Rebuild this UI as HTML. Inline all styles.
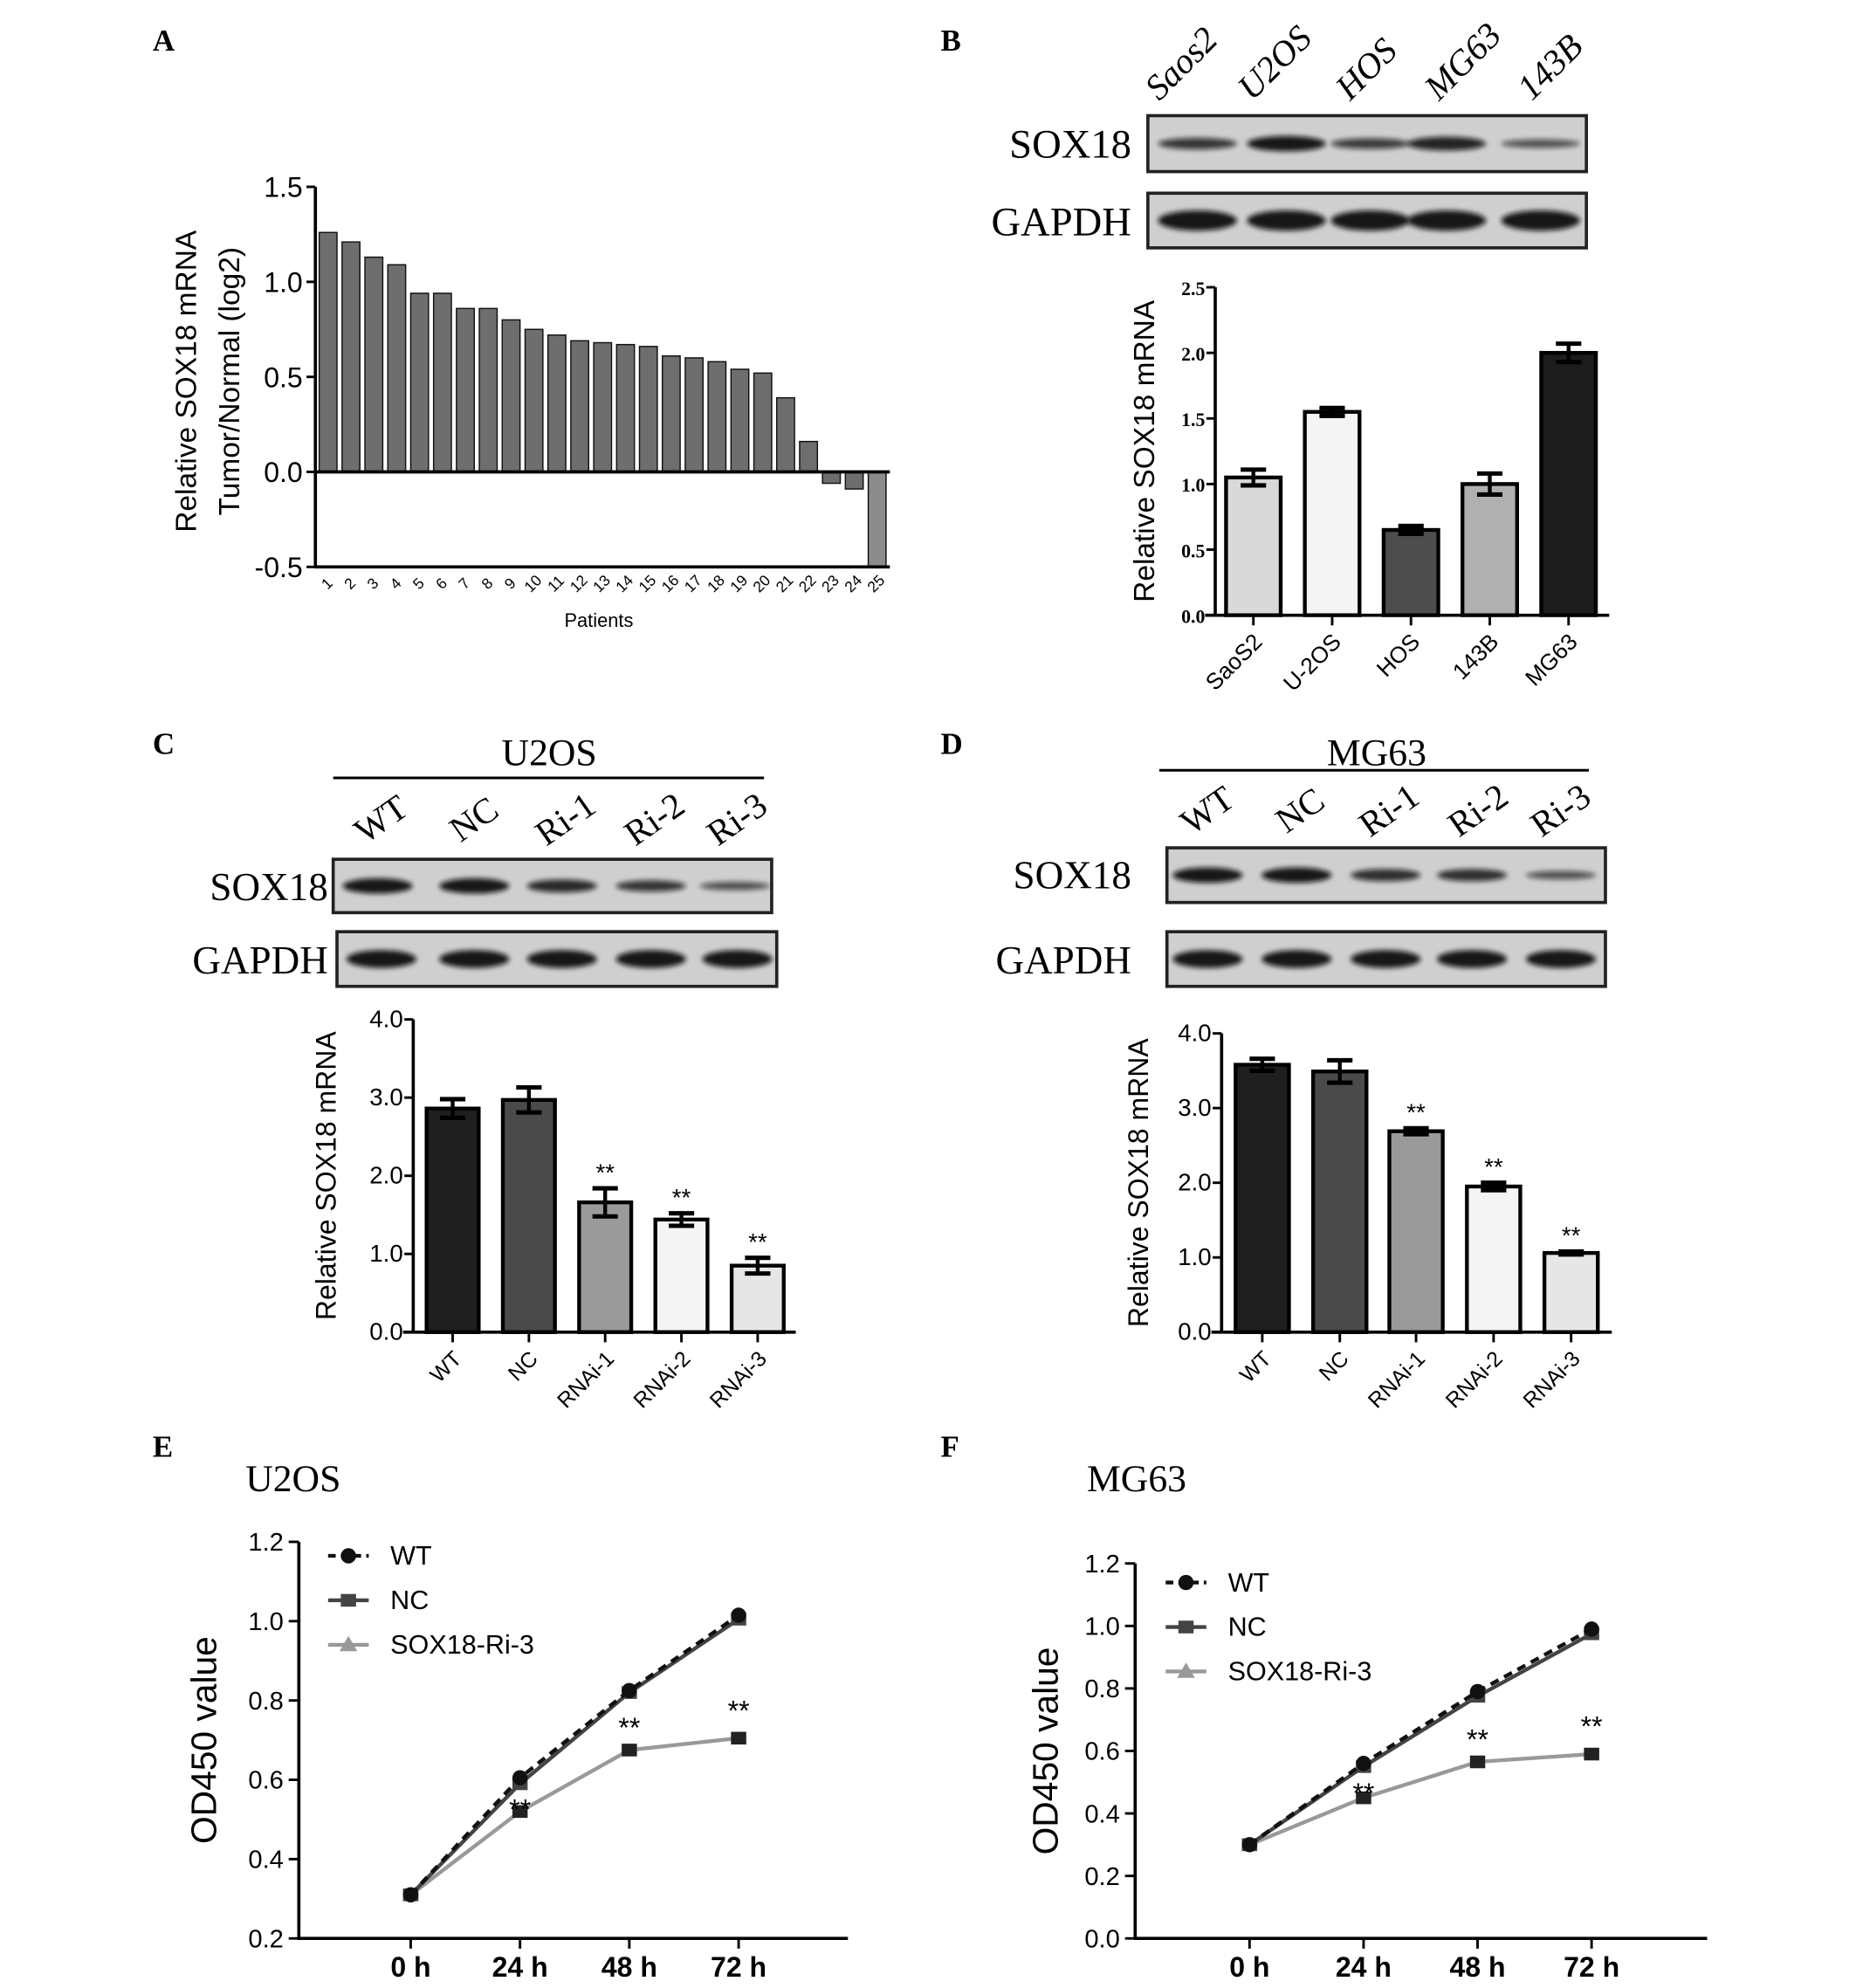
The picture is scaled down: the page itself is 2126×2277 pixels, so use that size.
<!DOCTYPE html>
<html><head><meta charset="utf-8"><style>
html,body{margin:0;padding:0;background:#fff;}
svg{display:block;}
.ar{font-family:"Liberation Sans",Arial,sans-serif;}
.tm{font-family:"Liberation Serif","Times New Roman",serif;}
</style></head><body>
<svg id="fig" width="2126" height="2277" viewBox="0 0 1460 1564" xmlns="http://www.w3.org/2000/svg">
<defs><filter id="blur" x="-20%" y="-100%" width="140%" height="300%"><feGaussianBlur stdDeviation="2"/></filter></defs>
<g id="root"></g>
</svg>
<script>
// ---- Panel A data ----
const aPatients = ["1","2","3","4","5","6","7","8","9","10","11","12","13","14","15","16","17","18","19","20","21","22","23","24","25"];
const aValues = [1.26,1.21,1.13,1.09,0.94,0.94,0.86,0.86,0.80,0.75,0.72,0.69,0.68,0.67,0.66,0.61,0.60,0.58,0.54,0.52,0.39,0.16,-0.06,-0.09,-0.50];
const aTicks = [-0.5,0.0,0.5,1.0,1.5];
// ---- Panel B data ----
const bCells = ["SaoS2","U-2OS","HOS","143B","MG63"];
const bValues = [1.05,1.55,0.65,1.00,2.00];
const bErrors = [0.06,0.03,0.03,0.08,0.07];
const bTicks = [0.0,0.5,1.0,1.5,2.0,2.5];
const bBlotLanes = ["Saos2","U2OS","HOS","MG63","143B"];
const bSoxBand = [0.75,1.0,0.7,0.9,0.55];
// ---- Panel C data ----
const cGroups = ["WT","NC","RNAi-1","RNAi-2","RNAi-3"];
const cValues = [2.86,2.97,1.66,1.44,0.85];
const cErrors = [0.12,0.16,0.18,0.08,0.10];
const cSig = ["","","**","**","**"];
const cTicks = [0.0,1.0,2.0,3.0,4.0];
const cSoxBand = [1.0,1.0,0.85,0.75,0.55];
// ---- Panel D data ----
const dGroups = ["WT","NC","RNAi-1","RNAi-2","RNAi-3"];
const dValues = [3.58,3.49,2.69,1.95,1.06];
const dErrors = [0.08,0.15,0.04,0.05,0.02];
const dSig = ["","","**","**","**"];
const dTicks = [0.0,1.0,2.0,3.0,4.0];
const dSoxBand = [1.0,1.0,0.8,0.8,0.55];
const lanes = ["WT","NC","Ri-1","Ri-2","Ri-3"];
// ---- Panel E data ----
const eTimes = ["0 h","24 h","48 h","72 h"];
const eWT = [0.31,0.605,0.825,1.015];
const eNC = [0.31,0.59,0.82,1.005];
const eRi = [0.31,0.52,0.675,0.705];
const eTicks = [0.2,0.4,0.6,0.8,1.0,1.2];
// ---- Panel F data ----
const fTimes = ["0 h","24 h","48 h","72 h"];
const fWT = [0.30,0.56,0.79,0.99];
const fNC = [0.30,0.55,0.775,0.975];
const fRi = [0.30,0.45,0.565,0.59];
const fTicks = [0.0,0.2,0.4,0.6,0.8,1.0,1.2];

const NS="http://www.w3.org/2000/svg";
const root=document.getElementById('root');
function el(tag,attrs,parent,text){const e=document.createElementNS(NS,tag);for(const k in attrs)e.setAttribute(k,attrs[k]);if(text!==undefined)e.textContent=text;(parent||root).appendChild(e);return e;}
function grp(name){const g=el('g',{});return g;}
function lin(d0,d1,r0,r1){return v=>r0+(v-d0)/(d1-d0)*(r1-r0);}

function panelLetter(t,x,y){const e=el('text',{x:x,y:y,class:'tm','font-size':24,'font-weight':'bold'},root,t);

}

// ---------- Panel A ----------
(function(){
const g=grp('panel-a-chart');
const y=lin(-0.5,1.5,446,147);
const x0=251,pitch=18,w=14;
aValues.forEach((v,i)=>{const x=x0+i*pitch;const top=Math.min(y(v),y(0)),h=Math.abs(y(v)-y(0));
const r=el('rect',{x:x,y:top,width:w,height:h,fill:i==24?'#8c8c8c':'#6e6e6e',stroke:'#111','stroke-width':1},g);


const t=el('text',{class:'ar','font-size':12,'text-anchor':'middle',transform:`translate(${x+w/2+2},${462}) rotate(-45)`},g,aPatients[i]);

});
el('line',{x1:248,y1:147,x2:248,y2:447,stroke:'#000','stroke-width':2.5},g);
el('line',{x1:248,y1:y(0),x2:700,y2:y(0),stroke:'#000','stroke-width':2.5},g);
el('line',{x1:247,y1:446,x2:700,y2:446,stroke:'#000','stroke-width':2.5},g);
aTicks.forEach(v=>{el('line',{x1:241,y1:y(v),x2:248,y2:y(v),stroke:'#000','stroke-width':2},g);
const t=el('text',{x:238,y:y(v)+8,class:'ar','font-size':22,'text-anchor':'end'},g,v.toFixed(1));

});
const t1=el('text',{class:'ar','font-size':23,'text-anchor':'middle',transform:'translate(154,300) rotate(-90)'},g,'Relative SOX18 mRNA');


const t2=el('text',{class:'ar','font-size':23,'text-anchor':'middle',transform:'translate(188,300) rotate(-90)'},g,'Tumor/Normal (log2)');


const t3=el('text',{x:471,y:493,class:'ar','font-size':15,'text-anchor':'middle'},g,'Patients');


})();

// ---------- blot helper ----------
function blot(name,x,y,w,h,centers,ints,bandW,thick){
const g=grp(name);
el('rect',{x:x,y:y,width:w,height:h,fill:'#cfcfcf',stroke:'#222','stroke-width':2.5},g);
centers.forEach((c,i)=>{const e=el('ellipse',{cx:c,cy:y+h/2,rx:bandW/2,ry:thick*ints[i],fill:'#111','fill-opacity':0.35+0.6*ints[i],filter:'url(#blur)'},g);

});
}
function label(t,x,y,size,anchor,name,rot){const e=el('text',{class:'tm','font-size':size,'text-anchor':anchor||'start',x:rot?0:x,y:rot?0:y,transform:rot?`translate(${x},${y}) rotate(${rot})`:''},root,t);

return e;}

// ---------- bar helper ----------
function barChart(name,cfg){
const g=grp(name);
const y=lin(0,cfg.max,cfg.y0,cfg.yTop);
cfg.values.forEach((v,i)=>{const c=cfg.centers[i];
const r=el('rect',{x:c-cfg.bw/2,y:y(v),width:cfg.bw,height:y(0)-y(v),fill:cfg.colors[i],stroke:'#000','stroke-width':3},g);


const e=cfg.errors[i];
el('line',{x1:c,y1:y(v+e),x2:c,y2:y(v-e),stroke:'#000','stroke-width':3},g);
el('line',{x1:c-10,y1:y(v+e),x2:c+10,y2:y(v+e),stroke:'#000','stroke-width':3.5},g);
el('line',{x1:c-10,y1:y(v-e),x2:c+10,y2:y(v-e),stroke:'#000','stroke-width':3.5},g);
if(cfg.sig&&cfg.sig[i]){const s=el('text',{x:c,y:y(v+e)-6,class:'ar','font-size':19,'text-anchor':'middle'},g,cfg.sig[i]);

}
el('line',{x1:c,y1:y(0),x2:c,y2:y(0)+8,stroke:'#000','stroke-width':2},g);
const t=el('text',{class:'ar','font-size':cfg.xfs,'text-anchor':'end',transform:`translate(${c+8},${y(0)+22}) rotate(-45)`},g,cfg.cats[i]);

});
el('line',{x1:cfg.ax,y1:cfg.yTop,x2:cfg.ax,y2:y(0)+1,stroke:'#000','stroke-width':2.5},g);
el('line',{x1:cfg.ax-8,y1:y(0),x2:cfg.xEnd,y2:y(0),stroke:'#000','stroke-width':2.5},g);
cfg.ticks.forEach(v=>{el('line',{x1:cfg.ax-7,y1:y(v),x2:cfg.ax,y2:y(v),stroke:'#000','stroke-width':2},g);
const t=el('text',{x:cfg.ax-8,y:y(v)+6,class:cfg.tickClass,'font-size':cfg.tfs,'font-weight':cfg.tickBold?'bold':'normal','text-anchor':'end'},g,v.toFixed(1));

});
const tt=el('text',{class:'ar','font-size':cfg.titleFs,'text-anchor':'middle',transform:`translate(${cfg.titleX},${(cfg.yTop+y(0))/2}) rotate(-90)`},g,'Relative SOX18 mRNA');


}

// ---------- Panel B ----------
bBlotLanes.forEach((t,i)=>label(t,[912,985,1062,1132,1205][i],80,28,'start','lane-label','-45').setAttribute('font-style','italic'));
label('SOX18',890,124,32,'end','blot-label-sox18');
label('GAPDH',890,185,32,'end','blot-label-gapdh');
blot('blot-b-sox18',903,91,345,44,[942,1012,1078,1138,1212],bSoxBand,62,6);
blot('blot-b-gapdh',903,152,345,43,[942,1012,1078,1138,1212],[1,1,1,1,1],62,8);
barChart('panel-b-chart',{values:bValues,errors:bErrors,cats:bCells,centers:[986,1048,1110,1172,1234],bw:43,colors:['#d9d9d9','#f4f4f4','#4d4d4d','#b0b0b0','#1c1c1c'],max:2.5,y0:484,yTop:226,ax:956,xEnd:1266,ticks:bTicks,tfs:15,tickClass:'tm',tickBold:true,xfs:18,titleFs:23,titleX:908});

// ---------- Panel C ----------
label('U2OS',432,602,30,'middle','cell-line-title-u2os');
el('line',{x1:262,y1:612,x2:601,y2:612,stroke:'#000','stroke-width':2});
lanes.forEach((t,i)=>label(t,[305,378,450,520,585][i],652,28,'middle','lane-label','-35'));
label('SOX18',258,708,31,'end','blot-label-sox18');
label('GAPDH',258,766,31,'end','blot-label-gapdh');
blot('blot-c-sox18',262,676,345,42,[297,373,442,512,578],cSoxBand,55,6);
blot('blot-c-gapdh',265,733,346,43,[300,373,442,512,580],[1,1,1,1,1],55,7);
barChart('panel-c-chart',{values:cValues,errors:cErrors,sig:cSig,cats:cGroups,centers:[356,416,476,536,596],bw:41,colors:['#1f1f1f','#4a4a4a','#9a9a9a','#f4f4f4','#e6e6e6'],max:4,y0:1048,yTop:802,ax:325,xEnd:626,ticks:cTicks,tfs:19,tickClass:'ar',xfs:17,titleFs:22,titleX:264});

// ---------- Panel D ----------
label('MG63',1083,602,30,'middle','cell-line-title-mg63');
el('line',{x1:912,y1:606,x2:1250,y2:606,stroke:'#000','stroke-width':2});
lanes.forEach((t,i)=>label(t,[955,1028,1098,1168,1233][i],645,28,'middle','lane-label','-35'));
label('SOX18',890,699,31,'end','blot-label-sox18');
label('GAPDH',890,766,31,'end','blot-label-gapdh');
blot('blot-d-sox18',918,667,345,43,[950,1020,1090,1158,1228],dSoxBand,55,6);
blot('blot-d-gapdh',918,733,345,43,[950,1020,1090,1158,1228],[1,1,1,1,1],55,7);
barChart('panel-d-chart',{values:dValues,errors:dErrors,sig:dSig,cats:dGroups,centers:[993,1054,1114,1175,1236],bw:42,colors:['#1f1f1f','#4a4a4a','#9a9a9a','#f4f4f4','#e6e6e6'],max:4,y0:1048,yTop:813,ax:961,xEnd:1268,ticks:dTicks,tfs:19,tickClass:'ar',xfs:17,titleFs:22,titleX:903});

// ---------- line chart helper ----------
function lineChart(name,cfg){
const g=grp(name);
const y=lin(cfg.min,cfg.max,cfg.y0,cfg.yTop);
const x=i=>cfg.x0+i*cfg.dx;
const series=[{d:cfg.ri,c:'#999',dash:'',m:'tri',n:'SOX18-Ri-3'},{d:cfg.nc,c:'#444',dash:'',m:'sq',n:'NC'},{d:cfg.wt,c:'#111',dash:'7,5',m:'circ',n:'WT'}];
series.forEach(s=>{
const p=el('polyline',{points:s.d.map((v,i)=>x(i)+','+y(v)).join(' '),fill:'none',stroke:s.c,'stroke-width':3,'stroke-dasharray':s.dash},g);


s.d.forEach((v,i)=>{marker(g,s.m=='tri'?'sq':s.m,x(i),y(v),s.m=='tri'?'#222':s.c);});});
cfg.sig.forEach((t,i)=>{if(!t)return;const s=el('text',{x:x(i),y:y(cfg.ri[i])+cfg.sigOff[i],class:'ar','font-size':22,'text-anchor':'middle'},g,t);

});
el('line',{x1:cfg.ax,y1:cfg.yTop,x2:cfg.ax,y2:cfg.y0+1,stroke:'#000','stroke-width':2.5},g);
el('line',{x1:cfg.ax-1,y1:cfg.y0,x2:cfg.xEnd,y2:cfg.y0,stroke:'#000','stroke-width':2.5},g);
cfg.ticks.forEach(v=>{el('line',{x1:cfg.ax-8,y1:y(v),x2:cfg.ax,y2:y(v),stroke:'#000','stroke-width':2},g);
const t=el('text',{x:cfg.ax-12,y:y(v)+7,class:'ar','font-size':20,'text-anchor':'end'},g,v.toFixed(1));

});
cfg.times.forEach((t,i)=>{el('line',{x1:x(i),y1:cfg.y0,x2:x(i),y2:cfg.y0+8,stroke:'#000','stroke-width':2},g);
const tx=el('text',{x:x(i),y:cfg.y0+30,class:'ar','font-size':22,'font-weight':'bold','text-anchor':'middle'},g,t);

});
const tt=el('text',{class:'ar','font-size':28,'text-anchor':'middle',transform:`translate(${cfg.titleX},${(cfg.yTop+cfg.y0)/2}) rotate(-90)`},g,'OD450 value');


// legend
[series[2],series[1],series[0]].forEach((s,k)=>{const ly=cfg.legY+k*35;
const lg=el('g',{},g);


el('line',{x1:cfg.legX,y1:ly,x2:cfg.legX+32,y2:ly,stroke:s.c,'stroke-width':3,'stroke-dasharray':s.dash?'6,4':''},lg);
marker(lg,s.m,cfg.legX+16,ly,s.m=='tri'?'#999':s.c);
el('text',{x:cfg.legX+49,y:ly+7,class:'ar','font-size':21},lg,s.n);});
}
function marker(g,m,cx,cy,c){
if(m=='circ')el('circle',{cx:cx,cy:cy,r:6,fill:c},g);
else if(m=='sq')el('rect',{x:cx-6,y:cy-5,width:12,height:10,fill:c},g);
else el('polygon',{points:`${cx},${cy-7} ${cx-7},${cy+5} ${cx+7},${cy+5}`,fill:c},g);}

label('U2OS',193,1173,30,'start','chart-title-u2os');
lineChart('panel-e-chart',{wt:eWT,nc:eNC,ri:eRi,times:eTimes,ticks:eTicks,min:0.2,max:1.2,y0:1525,yTop:1213,x0:323,dx:86,ax:235,xEnd:667,titleX:170,legX:258,legY:1224,sig:["","**","**","**"],sigOff:[0,6,-10,-14]});
label('MG63',855,1173,30,'start','chart-title-mg63');
lineChart('panel-f-chart',{wt:fWT,nc:fNC,ri:fRi,times:fTimes,ticks:fTicks,min:0.0,max:1.2,y0:1525,yTop:1230,x0:983,dx:89.7,ax:893,xEnd:1343,titleX:832,legX:917,legY:1245,sig:["","**","**","**"],sigOff:[0,4,-10,-14]});

panelLetter('A',120,40);panelLetter('B',740,40);panelLetter('C',120,593);panelLetter('D',740,593);panelLetter('E',120,1146);panelLetter('F',740,1146);
</script>
</body></html>
